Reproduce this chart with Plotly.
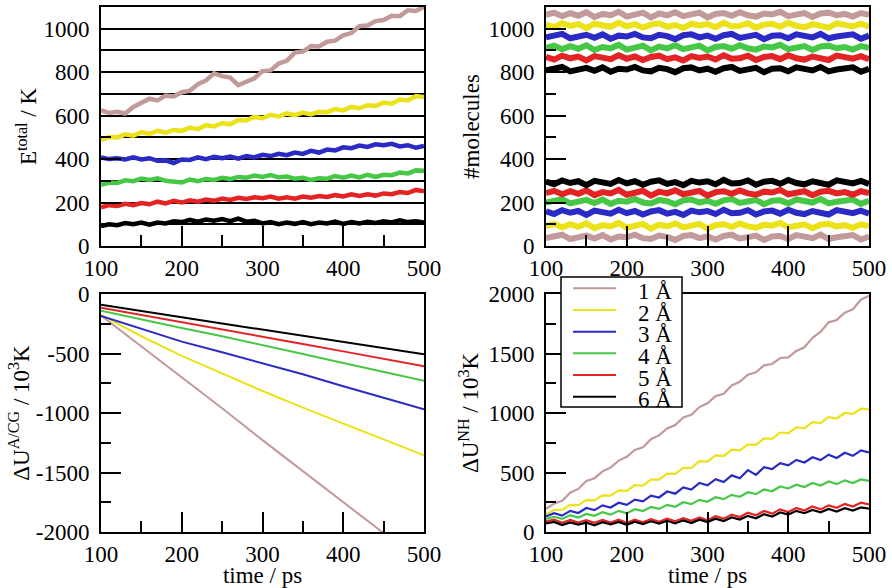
import plotly.graph_objects as go

# ---------------- data ----------------
time = list(range(100, 501, 10))          # sampling times (ps)
time_coarse = [100, 150, 200, 250, 300, 350, 400, 450, 500]

labels = ["1 Å", "2 Å", "3 Å", "4 Å", "5 Å", "6 Å"]
colors = ["#c29a9a", "#ece21a", "#2a2ac4", "#46c846", "#e42424", "#000000"]

# Panel a: E_total / K
e_total_1 = [625, 612, 618, 610, 640, 662, 678, 670, 692, 688, 708, 715, 745, 762, 795, 782, 775, 740, 758, 772, 805,
             808, 840, 852, 890, 895, 920, 918, 940, 945, 970, 980, 1012, 1015, 1035, 1040, 1060, 1058, 1085, 1082, 1100]
e_total_2 = [488, 502, 500, 514, 508, 524, 516, 530, 522, 534, 530, 545, 538, 556, 550, 566, 560, 580, 578, 594, 588,
             604, 596, 610, 602, 614, 606, 618, 616, 630, 624, 640, 634, 648, 645, 660, 655, 674, 670, 690, 686]
e_total_3 = [408, 400, 404, 398, 408, 398, 404, 392, 394, 382, 398, 396, 408, 400, 410, 404, 412, 402, 414, 408, 420,
             414, 424, 418, 430, 424, 438, 430, 444, 440, 454, 450, 462, 456, 468, 464, 470, 458, 464, 452, 460]
e_total_4 = [282, 292, 290, 302, 298, 310, 304, 312, 300, 298, 292, 306, 298, 308, 304, 314, 308, 318, 314, 324, 318,
             326, 316, 320, 310, 314, 304, 312, 310, 322, 314, 324, 316, 328, 318, 328, 326, 338, 334, 348, 346]
e_total_5 = [178, 188, 184, 194, 188, 198, 192, 204, 196, 208, 200, 210, 204, 214, 208, 218, 212, 222, 216, 224, 220,
             228, 218, 224, 218, 228, 222, 230, 226, 234, 228, 238, 230, 238, 232, 242, 238, 248, 244, 258, 252]
e_total_6 = [92, 100, 96, 106, 100, 108, 98, 108, 104, 114, 110, 120, 112, 122, 116, 124, 114, 126, 112, 116, 104,
             110, 100, 108, 102, 110, 100, 108, 104, 112, 102, 110, 104, 112, 106, 114, 108, 118, 110, 114, 108]

# Panel b: #molecules (upper and lower bands)
mol_hi_1 = [1064, 1074, 1058, 1072, 1060, 1076, 1054, 1068, 1062, 1078, 1056, 1066, 1074, 1052, 1070, 1062, 1076, 1058,
            1064, 1074, 1052, 1068, 1072, 1060, 1076, 1062, 1056, 1070, 1066, 1078, 1058, 1064, 1072, 1054, 1070, 1074,
            1062, 1068, 1056, 1072, 1064]
mol_hi_2 = [1019, 1007, 1025, 1013, 1021, 1003, 1023, 1017, 1009, 1027, 1011, 1021, 1005, 1019, 1025, 1009, 1017, 1003,
            1023, 1015, 1021, 1007, 1027, 1011, 1013, 1025, 1005, 1019, 1023, 1009, 1027, 1013, 1007, 1021, 1015, 1005,
            1025, 1017, 1011, 1023, 1009]
mol_hi_3 = [960, 970, 976, 956, 966, 972, 958, 974, 954, 968, 964, 976, 960, 956, 972, 966, 952, 970, 974, 960, 968,
            954, 970, 976, 958, 964, 972, 952, 968, 970, 956, 974, 966, 960, 976, 956, 964, 970, 974, 954, 968]
mol_hi_4 = [912, 922, 906, 920, 908, 924, 902, 916, 910, 926, 904, 914, 922, 900, 918, 910, 924, 906, 912, 922, 900,
            916, 920, 908, 924, 910, 904, 918, 914, 926, 906, 912, 920, 902, 918, 922, 910, 916, 904, 920, 912]
mol_hi_5 = [870, 858, 876, 864, 872, 854, 874, 868, 860, 878, 862, 872, 856, 870, 876, 860, 868, 854, 874, 866, 872,
            858, 878, 862, 864, 876, 856, 870, 874, 860, 878, 864, 858, 872, 866, 856, 876, 868, 862, 874, 860]
mol_hi_6 = [808, 818, 824, 804, 814, 820, 806, 822, 802, 816, 812, 824, 808, 804, 820, 814, 800, 818, 822, 808, 816,
            802, 818, 824, 806, 812, 820, 800, 816, 818, 804, 822, 814, 808, 824, 804, 812, 818, 822, 802, 816]
mol_lo_1 = [36, 46, 52, 32, 42, 48, 34, 50, 30, 44, 40, 52, 36, 32, 48, 42, 28, 46, 50, 36, 44,
            30, 46, 52, 34, 40, 48, 28, 44, 46, 32, 50, 42, 36, 52, 32, 40, 46, 50, 30, 44]
mol_lo_2 = [92, 102, 86, 100, 88, 104, 82, 96, 90, 106, 84, 94, 102, 80, 98, 90, 104, 86, 92, 102, 80,
            96, 100, 88, 104, 90, 84, 98, 94, 106, 86, 92, 100, 82, 98, 102, 90, 96, 84, 100, 92]
mol_lo_3 = [159, 147, 165, 153, 161, 143, 163, 157, 149, 167, 151, 161, 145, 159, 165, 149, 157, 143, 163, 155, 161,
            147, 167, 151, 153, 165, 145, 159, 163, 149, 167, 153, 147, 161, 155, 145, 165, 157, 151, 163, 149]
mol_lo_4 = [200, 210, 216, 196, 206, 212, 198, 214, 194, 208, 204, 216, 200, 196, 212, 206, 192, 210, 214, 200, 208,
            194, 210, 216, 198, 204, 212, 192, 208, 210, 196, 214, 206, 200, 216, 196, 204, 210, 214, 194, 208]
mol_lo_5 = [244, 254, 238, 252, 240, 256, 234, 248, 242, 258, 236, 246, 254, 232, 250, 242, 256, 238, 244, 254, 232,
            248, 252, 240, 256, 242, 236, 250, 246, 258, 238, 244, 252, 234, 250, 254, 242, 248, 236, 252, 244]
mol_lo_6 = [296, 284, 302, 290, 298, 280, 300, 294, 286, 304, 288, 298, 282, 296, 302, 286, 294, 280, 300, 292, 298,
            284, 304, 288, 290, 302, 282, 296, 300, 286, 304, 290, 284, 298, 292, 282, 302, 294, 288, 300, 286]

# Panel c: dU^A/CG / 10^3 K (coarse sampling, smooth)
du_acg_1 = [-180, -440, -700, -960, -1228, -1490, -1750, -2010, -2270]
du_acg_2 = [-175, -355, -520, -670, -815, -955, -1090, -1225, -1355]
du_acg_3 = [-185, -295, -400, -490, -580, -675, -775, -870, -968]
du_acg_4 = [-140, -215, -285, -355, -427, -505, -580, -655, -730]
du_acg_5 = [-115, -175, -235, -295, -357, -420, -482, -545, -608]
du_acg_6 = [-90, -140, -195, -248, -300, -355, -405, -455, -506]

# Panel d: dU^NH / 10^3 K
du_nh_1 = [195, 238, 262, 330, 362, 428, 452, 510, 542, 600, 632, 690, 712, 780, 812, 870, 898, 962, 984, 1050, 1082,
           1142, 1162, 1232, 1262, 1322, 1342, 1400, 1412, 1462, 1468, 1522, 1552, 1632, 1682, 1762, 1782, 1842, 1872,
           1952, 1985]
du_nh_2 = [150, 185, 188, 228, 226, 268, 266, 308, 306, 350, 345, 394, 390, 440, 440, 490, 488, 540, 538, 595, 592,
           644, 638, 692, 686, 736, 732, 786, 782, 836, 830, 880, 872, 924, 916, 966, 954, 1000, 992, 1036, 1030]
du_nh_3 = [130, 158, 138, 178, 160, 202, 184, 224, 206, 246, 228, 272, 258, 306, 290, 340, 322, 374, 356, 412, 392,
           444, 420, 476, 452, 520, 480, 545, 528, 578, 560, 606, 584, 628, 604, 650, 622, 666, 640, 686, 668]
du_nh_4 = [110, 128, 110, 142, 122, 152, 136, 166, 146, 178, 158, 192, 176, 210, 194, 228, 212, 250, 234, 270, 254,
           292, 276, 312, 296, 334, 318, 358, 342, 382, 366, 398, 378, 412, 390, 424, 402, 434, 412, 442, 430]
du_nh_5 = [90, 104, 78, 102, 80, 100, 78, 102, 80, 104, 78, 104, 82, 108, 86, 112, 90, 116, 94, 122, 98,
           132, 112, 146, 126, 162, 140, 176, 154, 190, 168, 202, 180, 214, 190, 224, 204, 236, 214, 246, 232]
du_nh_6 = [72, 84, 58, 80, 62, 78, 56, 82, 64, 84, 60, 86, 66, 90, 70, 94, 72, 98, 76, 104, 84,
           112, 92, 122, 104, 136, 116, 150, 130, 164, 146, 178, 158, 186, 166, 194, 172, 200, 180, 206, 196]

e_total = [e_total_1, e_total_2, e_total_3, e_total_4, e_total_5, e_total_6]
mol_hi = [mol_hi_1, mol_hi_2, mol_hi_3, mol_hi_4, mol_hi_5, mol_hi_6]
mol_lo = [mol_lo_1, mol_lo_2, mol_lo_3, mol_lo_4, mol_lo_5, mol_lo_6]
du_acg = [du_acg_1, du_acg_2, du_acg_3, du_acg_4, du_acg_5, du_acg_6]
du_nh = [du_nh_1, du_nh_2, du_nh_3, du_nh_4, du_nh_5, du_nh_6]

x_ticks = [100, 200, 300, 400, 500]
e_ticks = [0, 200, 400, 600, 800, 1000]
acg_ticks = [0, -500, -1000, -1500, -2000]
acg_ticktext = ["0", "-500", "-1000", "-1500", "-2000"]
nh_ticks = [0, 500, 1000, 1500, 2000]

# ---------------- figure ----------------
FONT = "Liberation Serif"
FS = 23
W, H = 892, 588
fig = go.Figure()

for i in range(6):
    fig.add_trace(go.Scatter(x=time, y=e_total[i], mode="lines", xaxis="x", yaxis="y", name=labels[i],
                             line=dict(color=colors[i], width=4.5), showlegend=False))
for i in range(6):
    fig.add_trace(go.Scatter(x=time, y=mol_hi[i], mode="lines", xaxis="x2", yaxis="y2", name=labels[i],
                             line=dict(color=colors[i], width=6), showlegend=False))
for i in range(6):
    fig.add_trace(go.Scatter(x=time, y=mol_lo[i], mode="lines", xaxis="x2", yaxis="y2", name=labels[i],
                             line=dict(color=colors[i], width=6), showlegend=False))
for i in range(6):
    fig.add_trace(go.Scatter(x=time_coarse, y=du_acg[i], mode="lines", xaxis="x3", yaxis="y3", name=labels[i],
                             line=dict(color=colors[i], width=2), showlegend=False))
for i in range(6):
    fig.add_trace(go.Scatter(x=time, y=du_nh[i], mode="lines", xaxis="x4", yaxis="y4",
                             name=labels[i], line=dict(color=colors[i], width=2.2), showlegend=False))

tickfont = dict(family=FONT, size=FS, color="black")
titlefont = dict(family=FONT, size=FS, color="black")


def xax(domain, anchor, title=None):
    d = dict(domain=domain, anchor=anchor, range=[100, 500], tickvals=x_ticks,
             ticks="inside", ticklen=20, tickwidth=2, tickcolor="black",
             minor=dict(ticks="inside", ticklen=11, tickwidth=2, tickcolor="black", dtick=50, tick0=100),
             showline=True, linewidth=2, linecolor="black", mirror=True,
             showgrid=False, zeroline=False, tickfont=tickfont, automargin=False)
    if title:
        d["title"] = dict(text=title, font=titlefont, standoff=11)
    return d


def yax(domain, anchor, rng, tickvals, ticktext=None, minor_dtick=100, title=None, standoff=8, grid=False):
    d = dict(domain=domain, anchor=anchor, range=rng, tickvals=tickvals,
             ticks="inside", ticklen=20, tickwidth=2, tickcolor="black",
             minor=dict(ticks="inside", ticklen=10, tickwidth=2, tickcolor="black", dtick=minor_dtick, tick0=0,
                        showgrid=grid, gridcolor="black", gridwidth=1.5),
             showline=True, linewidth=2, linecolor="black", mirror=True,
             showgrid=grid, gridcolor="black", gridwidth=1.5, zeroline=False, tickfont=tickfont,
             ticklabelstandoff=5, automargin=False)
    if ticktext:
        d["ticktext"] = ticktext
    if title:
        d["title"] = dict(text=title, font=titlefont, standoff=standoff)
    return d


xl = [101 / W, 424 / W]
xr = [546 / W, 869 / W]
yt = [1 - 246 / H, 1 - 7 / H]
yb = [1 - 532 / H, 1 - 294 / H]

# hand-built legend box (tight rows like the original)
shapes = [dict(type="rect", xref="paper", yref="paper", layer="above",
               x0=561 / W, x1=682 / W, y0=1 - 407 / H, y1=1 - 277 / H,
               fillcolor="white", line=dict(color="black", width=1.5))]
annotations = []
row_y = [288.3, 310, 331.7, 353.3, 375, 396.7]
for i in range(6):
    shapes.append(dict(type="line", xref="paper", yref="paper", layer="above",
                       x0=573 / W, x1=616 / W, y0=1 - row_y[i] / H, y1=1 - row_y[i] / H,
                       line=dict(color=colors[i], width=2)))
    annotations.append(dict(xref="paper", yref="paper", x=674 / W, y=1 - (row_y[i] + 3) / H,
                            xanchor="right", yanchor="middle", text=labels[i], showarrow=False,
                            font=dict(family=FONT, size=FS, color="black")))

fig.update_layout(
    width=W, height=H, autosize=False,
    margin=dict(l=0, r=0, t=0, b=0, pad=0, autoexpand=False),
    paper_bgcolor="white", plot_bgcolor="white",
    font=dict(family=FONT, size=FS, color="black"),
    xaxis=xax(xl, "y"),
    yaxis=yax(yt, "x", [0, 1100], e_ticks, minor_dtick=100, title="E<sup>total</sup> / K", standoff=0, grid=True),
    xaxis2=xax(xr, "y2"),
    yaxis2=yax(yt, "x2", [0, 1100], e_ticks, minor_dtick=100, title="#molecules", standoff=2),
    xaxis3=xax(xl, "y3", title="time / ps"),
    yaxis3=yax(yb, "x3", [-2000, 0], acg_ticks, acg_ticktext, minor_dtick=250,
               title="ΔU<sup>A/CG</sup> / 10<sup>3</sup>K", standoff=0),
    xaxis4=xax(xr, "y4", title="time / ps"),
    yaxis4=yax(yb, "x4", [0, 2000], nh_ticks, minor_dtick=250,
               title="ΔU<sup>NH</sup> / 10<sup>3</sup>K", standoff=3),
    shapes=shapes,
    annotations=annotations,
    showlegend=False,
)

fig.write_html("out.html")
